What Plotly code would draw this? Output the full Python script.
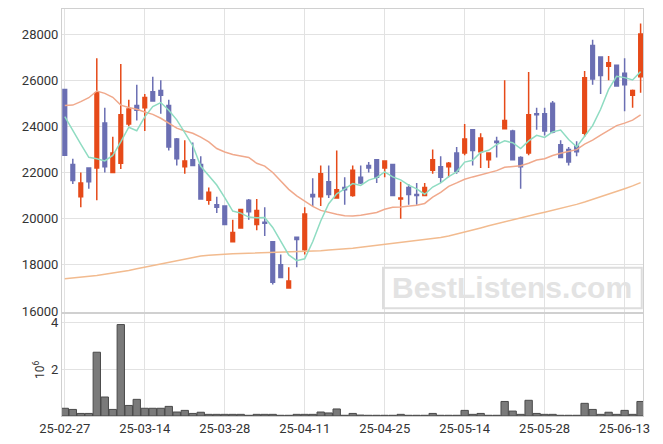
import plotly.graph_objects as go

dates = ["25-02-27", "25-02-28", "25-03-04", "25-03-05", "25-03-06", "25-03-07", "25-03-10", "25-03-11",
         "25-03-12", "25-03-13", "25-03-14", "25-03-17", "25-03-18", "25-03-19", "25-03-20", "25-03-21",
         "25-03-24", "25-03-25", "25-03-26", "25-03-27", "25-03-28", "25-03-31", "25-04-01", "25-04-02",
         "25-04-03", "25-04-04", "25-04-07", "25-04-08", "25-04-09", "25-04-10", "25-04-11", "25-04-14",
         "25-04-15", "25-04-16", "25-04-17", "25-04-18", "25-04-21", "25-04-22", "25-04-23", "25-04-24",
         "25-04-25", "25-04-28", "25-04-29", "25-04-30", "25-05-02", "25-05-07", "25-05-08", "25-05-09",
         "25-05-12", "25-05-13", "25-05-14", "25-05-15", "25-05-16", "25-05-19", "25-05-20", "25-05-21",
         "25-05-22", "25-05-23", "25-05-26", "25-05-27", "25-05-28", "25-05-29", "25-05-30", "25-06-02",
         "25-06-04", "25-06-05", "25-06-09", "25-06-10", "25-06-11", "25-06-12", "25-06-13", "25-06-16",
         "25-06-17"]

open_p = [25600, 22350, 20950, 22200, 22200, 24150, 22000, 22400, 24100, 24900,
          24800, 25500, 25550, 24900, 23450, 22250, 22550, 22350, 20800, 20600,
          20550, 19000, 19600, 20800, 19750, 19850, 19000, 18000, 17000, 19200,
          18650, 21050, 20950, 21600, 20900, 21350, 21000, 21800, 22300, 22550,
          22200, 22350, 20850, 21350, 21050, 21000, 22100, 22250, 22250, 22850,
          22850, 23850, 22900, 22550, 23350, 23900, 23800, 22650, 22850, 24550,
          24550, 25000, 23200, 23000, 23150, 23700, 27500, 27000, 26600, 26650,
          26300, 25350, 26150]
high_p = [25600, 22600, 22000, 22200, 26950, 24800, 23550, 26700, 25150, 25800,
          25400, 26150, 26000, 25150, 23500, 23400, 23300, 22700, 21350, 20950,
          20550, 19950, 20400, 20850, 20850, 20500, 19000, 18450, 17900, 19200,
          20500, 21750, 22300, 22300, 22950, 21800, 22300, 22300, 22450, 22550,
          22500, 22350, 21600, 21500, 21550, 21550, 23000, 22700, 22450, 23100,
          24100, 23850, 23700, 22850, 23550, 26000, 23850, 22700, 26350, 24800,
          24800, 25100, 23400, 23100, 23350, 26400, 27750, 27000, 27050, 26650,
          26950, 25600, 28450]
low_p = [22750, 21500, 20500, 21300, 20800, 22000, 22000, 22150, 24000, 24250,
         23800, 25100, 24550, 22950, 22300, 21950, 22300, 20850, 20600, 20250,
         19750, 19000, 19600, 19950, 19500, 19250, 17150, 17450, 17000, 17900,
         18450, 20550, 20550, 20900, 20900, 20600, 20950, 21500, 22000, 21550,
         21800, 21000, 20000, 20600, 20600, 21000, 21950, 21550, 21800, 21950,
         22750, 22300, 22200, 22200, 22650, 23900, 22550, 21300, 22750, 23850,
         23600, 23700, 22650, 22300, 22700, 23550, 25800, 25400, 26000, 25750,
         24650, 24800, 25450]
close_p = [22750, 21650, 21550, 21600, 25450, 22250, 22850, 24500, 24750, 24700,
           25250, 25100, 25350, 23100, 22600, 22500, 22300, 20850, 21150, 20500,
           19750, 19400, 20400, 20300, 20350, 19800, 17250, 17450, 17300, 19100,
           20200, 20950, 21950, 21050, 21250, 21250, 22100, 21550, 22200, 21800,
           22500, 21000, 20900, 21050, 21000, 21350, 22550, 21800, 22400, 22050,
           23450, 22950, 23500, 22850, 23300, 24250, 22550, 22250, 24500, 24500,
           23800, 23750, 22650, 22450, 22900, 26100, 26050, 26200, 26750, 25750,
           25800, 25550, 28000]

ma5 = [24420, 23800, 23230, 22660, 22600, 22500, 22740, 23330, 23960, 23810,
       24410, 24860, 25030, 24700, 24280, 23730, 23170, 22270, 21880, 21460,
       20910, 20330, 20240, 20070, 20040, 20050, 19620, 19030, 18430, 18180,
       18260, 19000, 19900, 20650, 21080, 21290, 21520, 21440, 21670, 21780,
       22030, 21810, 21680, 21450, 21290, 21060, 21370, 21550, 21820, 22030,
       22450, 22530, 22870, 22960, 23210, 23370, 23290, 23040, 23370, 23610,
       23520, 23760, 23840, 23430, 23110, 23570, 24030, 24740, 25600, 26170,
       26110, 26010, 26370]
ma20 = [24900, 24920, 25070, 25240, 25530, 25430, 25260, 24920, 24820, 24740,
        24620, 24520, 24350, 24130, 23920, 23800, 23700, 23530, 23330, 23040,
        22890, 22780, 22720, 22650, 22400, 22280, 22000, 21640, 21270, 20990,
        20740, 20530, 20360, 20260, 20190, 20130, 20120, 20150, 20210, 20270,
        20410, 20490, 20510, 20550, 20580, 20660, 20930, 21140, 21400, 21550,
        21710, 21810, 21890, 21980, 22080, 22230, 22250, 22290, 22400, 22540,
        22600, 22740, 22830, 22900, 22990, 23230, 23400, 23620, 23840, 24030,
        24140, 24270, 24500]
ma60 = [17400, 17430, 17460, 17500, 17540, 17590, 17640, 17700, 17760, 17830,
        17900, 17970, 18040, 18110, 18190, 18260, 18330, 18380, 18420, 18450,
        18470, 18480, 18490, 18500, 18510, 18520, 18520, 18530, 18540, 18550,
        18570, 18590, 18610, 18640, 18660, 18690, 18720, 18760, 18800, 18840,
        18880, 18920, 18960, 19000, 19040, 19080, 19130, 19180, 19250, 19330,
        19420, 19510, 19600, 19690, 19780, 19870, 19960, 20040, 20120, 20200,
        20280, 20360, 20440, 20520, 20620, 20720, 20830, 20940, 21060, 21180,
        21300, 21420, 21560]
volume = [330000, 280000, 110000, 110000, 2720000, 810000, 280000, 3900000, 450000, 710000,
          330000, 330000, 330000, 410000, 170000, 240000, 110000, 160000, 70000, 70000,
          70000, 70000, 70000, 30000, 70000, 70000, 70000, 30000, 30000, 70000,
          70000, 70000, 170000, 130000, 300000, 30000, 110000, 40000, 30000, 30000,
          30000, 30000, 70000, 30000, 30000, 30000, 110000, 30000, 30000, 30000,
          240000, 70000, 110000, 30000, 30000, 620000, 210000, 70000, 670000, 110000,
          70000, 70000, 30000, 30000, 30000, 540000, 280000, 70000, 160000, 70000,
          240000, 70000, 620000]

price_ticks = [16000, 18000, 20000, 22000, 24000, 26000, 28000]
price_tick_text = ["16000", "18000", "20000", "22000", "24000", "26000", "28000"]
vol_ticks = [2000000, 4000000]
vol_tick_text = ["2", "4"]
x_ticks = dates[::10]

RED = "#e64a19"
BLUE = "#6b6fb3"
GREEN = "#8fdcc2"
SALMON = "#f0a98c"
TAN = "#f2bb8f"
GRID = "#e2e2e2"
FRAME = "#d0d0d0"

fig = go.Figure()
fig.add_trace(go.Candlestick(
    x=dates, open=open_p, high=high_p, low=low_p, close=close_p,
    increasing=dict(line=dict(color=RED, width=1.5), fillcolor=RED),
    decreasing=dict(line=dict(color=BLUE, width=1.5), fillcolor=BLUE),
    whiskerwidth=0, showlegend=False, hoverinfo="skip",
    xaxis="x", yaxis="y"))
for series, color in [(ma60, TAN), (ma20, SALMON), (ma5, GREEN)]:
    fig.add_trace(go.Scatter(x=dates, y=series, mode="lines",
                             line=dict(color=color, width=1.5),
                             showlegend=False, hoverinfo="skip",
                             xaxis="x", yaxis="y"))
fig.add_trace(go.Bar(x=dates, y=volume, marker=dict(color="#7a7a7a", line=dict(color="#4a4a4a", width=1)),
                     showlegend=False, hoverinfo="skip", xaxis="x2", yaxis="y2"))

axis_font = dict(family="Roboto, Arial, sans-serif", size=13, color="#333333")
common_x = dict(type="category", range=[-0.35, 72.3], tickmode="array", tickvals=x_ticks,
                showgrid=True, gridcolor=GRID, gridwidth=1, showline=True, mirror=True,
                linecolor=FRAME, linewidth=1, ticks="", zeroline=False, tickfont=axis_font,
                automargin=False)

fig.update_layout(
    width=663, height=444,
    margin=dict(l=62, r=20, t=9, b=28, autoexpand=False),
    paper_bgcolor="white", plot_bgcolor="white",
    bargap=0.08,
    showlegend=False,
    boxgap=0.35,
    xaxis=dict(**common_x, domain=[0, 1], anchor="y", showticklabels=False,
               rangeslider=dict(visible=False)),
    xaxis2=dict(**common_x, domain=[0, 1], anchor="y2", matches="x", showticklabels=True),
    yaxis=dict(domain=[0.2555, 1], range=[15957, 29083], tickmode="array", tickvals=price_ticks,
               ticktext=price_tick_text,
               showgrid=True, gridcolor=GRID, showline=True, mirror=True, linecolor=FRAME,
               zeroline=False, tickfont=axis_font, ticks="", automargin=False),
    yaxis2=dict(domain=[0, 0.2506], range=[0, 4350000], tickmode="array", tickvals=vol_ticks,
                ticktext=vol_tick_text, showgrid=True, gridcolor=GRID, showline=True, mirror=True,
                linecolor=FRAME, zeroline=False, tickfont=axis_font, ticks="", automargin=False),
)

fig.add_annotation(xref="paper", yref="paper", x=-0.04, y=0.115, text="10<sup>6</sup>",
                   textangle=-90, showarrow=False, xanchor="center", yanchor="middle",
                   font=dict(family="Roboto, Arial, sans-serif", size=12, color="#333333"))

fig.add_shape(type="rect", xref="paper", yref="paper", x0=0.5525, x1=0.9978, y0=0.2646, y1=0.3644,
              line=dict(color="#dddddd", width=2), fillcolor="rgba(0,0,0,0)", layer="above")
fig.add_annotation(xref="paper", yref="paper", x=0.7747, y=0.3145, text="<b>BestListens.com</b>",
                   showarrow=False, xanchor="center", yanchor="middle",
                   font=dict(family="Liberation Sans, Arial, sans-serif", size=30, color="#e3e3e3"))

fig.write_html("out.html", config={"displayModeBar": False},
               post_script="document.body.style.margin='0';document.body.style.padding='0';")
